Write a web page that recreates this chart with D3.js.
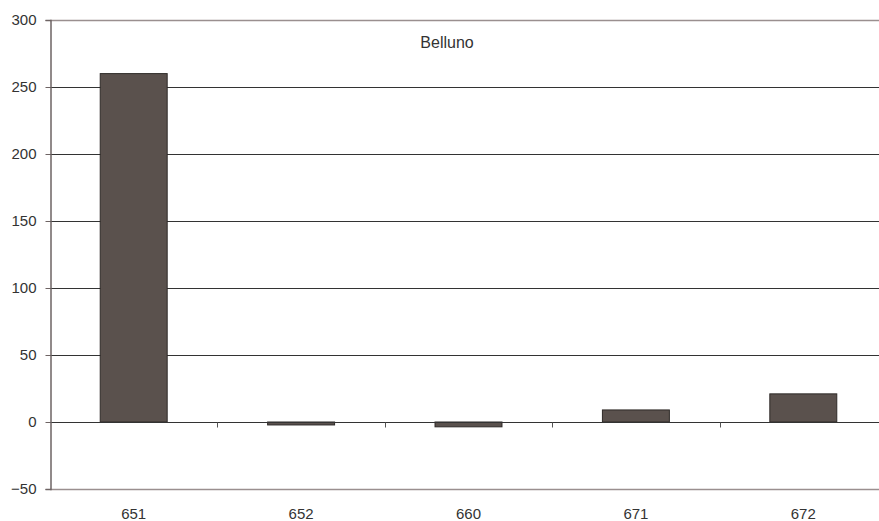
<!DOCTYPE html>
<html>
<head>
<meta charset="utf-8">
<script src="https://cdn.jsdelivr.net/npm/d3@7/dist/d3.min.js"></script>
<style>
  html, body { margin: 0; padding: 0; background: #fff; overflow: hidden; }
  svg { display: block; font-family: "Liberation Sans", Arial, sans-serif; }
</style>
</head>
<body>
<svg id="chart" width="879" height="521"></svg>
<script>
// Categories (area codes) and their values
const categories = ["651", "652", "660", "671", "672"];
const values = [260, -2.2, -3.6, 9, 21];
const yTicks = [-50, 0, 50, 100, 150, 200, 250, 300];
const title = "Belluno";

const svg = d3.select("#chart");
const margin = { left: 50, top: 20, right: -8, bottom: 32 };
const W = 879, H = 521;
const plotRight = W - margin.right;   // plot area runs past the right edge
const plotBottom = H - margin.bottom;

const x = d3.scaleBand().domain(categories).range([margin.left, plotRight]).paddingInner(0).paddingOuter(0);
const y = d3.scaleLinear().domain([-50, 300]).range([plotBottom, margin.top]);

// Horizontal gridlines
svg.append("g").selectAll("line")
  .data(yTicks.filter(t => t !== -50 && t !== 300))
  .join("line")
  .attr("x1", margin.left).attr("x2", plotRight)
  .attr("y1", d => Math.round(y(d)) + 0.5).attr("y2", d => Math.round(y(d)) + 0.5)
  .attr("stroke", "#333").attr("stroke-width", 1);

// Plot border top and bottom
[300, -50].forEach(v => {
  svg.append("line")
    .attr("x1", margin.left).attr("x2", plotRight)
    .attr("y1", Math.round(y(v)) + 0.5).attr("y2", Math.round(y(v)) + 0.5)
    .attr("stroke", "#9a8f8f").attr("stroke-width", 1.5);
});

// Bars
const bw = x.bandwidth() * 0.4;
svg.append("g").selectAll("rect")
  .data(categories.map((c, i) => ({ c, v: values[i] })))
  .join("rect")
  .attr("x", d => x(d.c) + (x.bandwidth() - bw) / 2)
  .attr("width", bw)
  .attr("y", d => y(Math.max(0, d.v)))
  .attr("height", d => Math.abs(y(d.v) - y(0)))
  .attr("fill", "#5a514d")
  .attr("stroke", "#2e2a28").attr("stroke-width", 1);

// Zero baseline with category ticks
const y0 = Math.round(y(0)) + 0.5;
svg.append("line")
  .attr("x1", margin.left).attr("x2", plotRight)
  .attr("y1", y0).attr("y2", y0)
  .attr("stroke", "#333").attr("stroke-width", 1);
svg.append("g").selectAll("line")
  .data(categories.slice(1))
  .join("line")
  .attr("x1", d => Math.round(x(d)) + 0.5).attr("x2", d => Math.round(x(d)) + 0.5)
  .attr("y1", y0).attr("y2", y0 + 5)
  .attr("stroke", "#555").attr("stroke-width", 1);

// Y axis
const yAxis = svg.append("g")
  .attr("transform", `translate(${margin.left + 0.5},0)`)
  .call(d3.axisLeft(y).tickValues(yTicks).tickSize(5).tickPadding(9).tickFormat(d3.format("d")));
yAxis.select(".domain").attr("stroke", "#6e6464").attr("stroke-width", 1.5);
yAxis.selectAll(".tick line").attr("stroke", "#6e6464");
yAxis.selectAll(".tick text")
  .attr("fill", "#333").attr("font-size", 15)
  .attr("font-family", "Liberation Sans, Arial, sans-serif");

// Category labels
svg.append("g").selectAll("text")
  .data(categories)
  .join("text")
  .attr("x", d => x(d) + x.bandwidth() / 2)
  .attr("y", 519)
  .attr("text-anchor", "middle")
  .attr("fill", "#333").attr("font-size", 15)
  .text(d => d);

// Title inside the plot
svg.append("text")
  .attr("x", 447).attr("y", 48)
  .attr("text-anchor", "middle")
  .attr("fill", "#333").attr("font-size", 16)
  .text(title);
</script>
</body>
</html>
